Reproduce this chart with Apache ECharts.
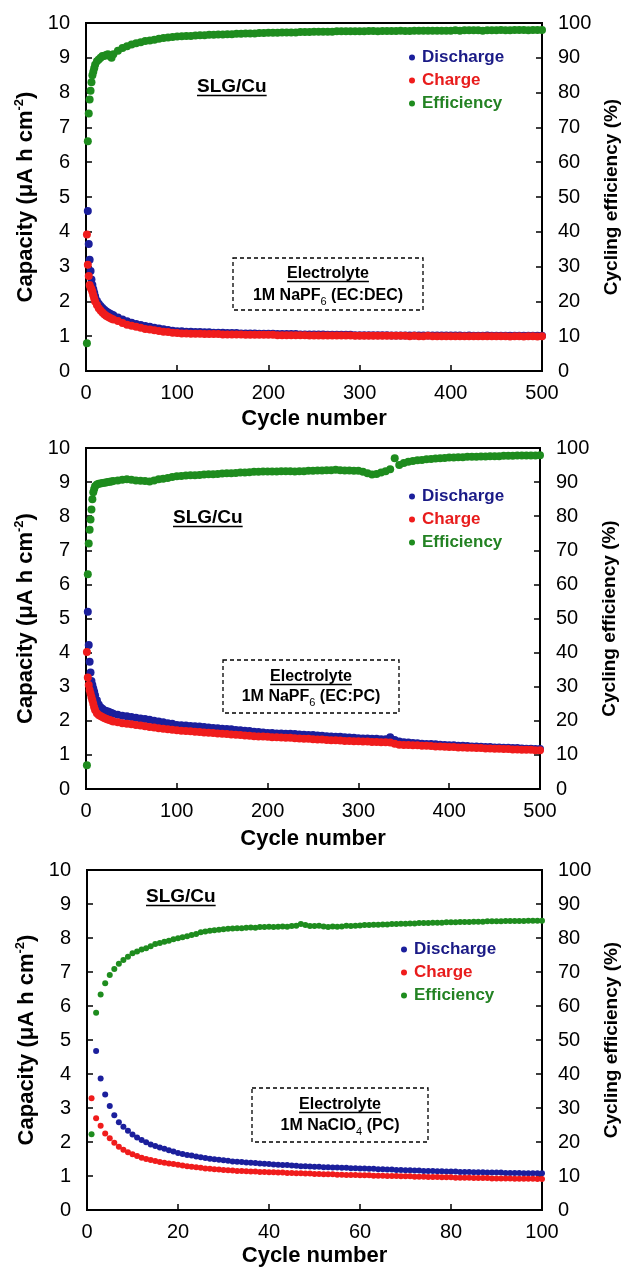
<!DOCTYPE html>
<html><head><meta charset="utf-8">
<script src="https://cdn.jsdelivr.net/npm/echarts@6/dist/echarts.min.js"></script>
<style>html,body{margin:0;padding:0;background:#fff}#c{width:622px;height:1272px}</style>
</head><body><div id="c"></div><script>
// ---------- DATA ----------
const P12_CYCLES = [1,2,3,4,5,6,7,8,9,10,
 12,14,16,18,20,22,24,26,28,30,
 35,40,45,50,55,60,65,70,75,80,85,90,95,100,
 105,110,115,120,125,130,135,140,145,150,155,160,165,170,175,180,185,190,195,200,
 205,210,215,220,225,230,235,240,245,250,255,260,265,270,275,280,285,290,295,300,
 305,310,315,320,325,330,335,340,345,350,355,360,365,370,375,380,385,390,395,400,
 405,410,415,420,425,430,435,440,445,450,455,460,465,470,475,480,485,490,495,500];

// Panel 1: 1M NaPF6 (EC:DEC)
const P1_DISCHARGE = [null,4.60,3.65,3.20,2.87,2.63,2.47,2.35,2.25,2.15,
 2.02,1.93,1.87,1.81,1.76,1.72,1.68,1.65,1.62,1.60,
 1.54,1.48,1.43,1.39,1.35,1.32,1.29,1.27,1.24,1.22,1.20,1.18,1.16,1.14,
 1.14,1.13,1.13,1.12,1.12,1.11,1.11,1.10,1.10,1.10,1.09,1.09,1.09,1.08,1.08,1.08,1.08,1.07,1.07,1.07,
 1.07,1.06,1.06,1.06,1.06,1.06,1.05,1.05,1.05,1.05,1.05,1.05,1.04,1.04,1.04,1.04,1.04,1.04,1.03,1.03,
 1.03,1.03,1.03,1.03,1.03,1.03,1.02,1.02,1.02,1.02,1.02,1.02,1.02,1.02,1.02,1.02,1.02,1.02,1.02,1.02,
 1.02,1.02,1.01,1.02,1.01,1.01,1.01,1.02,1.01,1.01,1.01,1.01,1.01,1.01,1.01,1.01,1.01,1.01,1.01,1.01];
const P1_CHARGE = [3.92,3.05,2.73,2.47,2.40,2.35,2.28,2.18,2.08,2.00,
 1.90,1.80,1.74,1.68,1.63,1.59,1.56,1.53,1.50,1.48,
 1.44,1.38,1.33,1.30,1.27,1.24,1.21,1.19,1.17,1.15,1.13,1.12,1.10,1.09,
 1.08,1.08,1.07,1.07,1.07,1.06,1.06,1.06,1.06,1.05,1.05,1.05,1.05,1.05,1.04,1.04,1.04,1.04,1.04,1.04,
 1.04,1.03,1.03,1.03,1.03,1.03,1.03,1.03,1.02,1.02,1.02,1.02,1.02,1.02,1.02,1.02,1.02,1.02,1.01,1.01,
 1.01,1.01,1.01,1.01,1.01,1.01,1.01,1.01,1.01,1.01,1.00,1.01,1.00,1.00,1.01,1.00,1.00,1.00,1.00,1.00,
 1.00,1.00,1.00,1.00,1.00,1.00,1.00,1.00,1.00,1.00,1.00,1.00,0.99,1.00,1.00,0.99,1.00,1.00,0.99,1.00];
const P1_EFFICIENCY = [8,66,74,78,80.5,83,85,86,87,88,
 89,89.5,90,90.5,90.5,90.8,91,90.5,90,91,
 92,92.8,93.3,93.8,94.2,94.5,94.8,95,95.2,95.5,95.7,95.8,96,96.1,
 96.2,96.3,96.3,96.4,96.5,96.5,96.6,96.6,96.7,96.7,96.8,96.8,96.9,96.9,97,97,97,97.1,97.1,97.2,
 97.2,97.2,97.3,97.3,97.3,97.3,97.4,97.4,97.4,97.5,97.5,97.5,97.5,97.5,97.6,97.6,97.6,97.6,97.6,97.6,
 97.6,97.7,97.7,97.6,97.7,97.7,97.7,97.7,97.8,97.7,97.7,97.8,97.8,97.8,97.8,97.8,97.8,97.8,97.8,97.8,
 97.9,97.8,97.9,97.9,97.9,97.9,97.8,97.9,97.9,97.9,98,97.9,97.9,98,98,98,97.9,98,98,98];

// Panel 2: 1M NaPF6 (EC:PC)
const P2_DISCHARGE = [null,5.20,4.22,3.73,3.42,3.17,3.05,2.95,2.85,2.75,
 2.60,2.48,2.40,2.35,2.31,2.29,2.27,2.25,2.23,2.21,
 2.18,2.15,2.13,2.11,2.09,2.07,2.05,2.03,2.00,1.98,1.96,1.93,1.91,1.88,
 1.87,1.86,1.85,1.84,1.83,1.82,1.80,1.79,1.78,1.77,1.76,1.75,1.73,1.72,1.71,1.70,1.68,1.67,1.66,1.64,
 1.64,1.63,1.63,1.62,1.62,1.61,1.60,1.59,1.58,1.58,1.57,1.56,1.55,1.54,1.53,1.53,1.52,1.51,1.50,1.49,
 1.48,1.48,1.47,1.47,1.46,1.46,1.52,1.44,1.39,1.37,1.36,1.35,1.34,1.33,1.32,1.32,1.31,1.30,1.29,1.28,
 1.28,1.27,1.27,1.26,1.25,1.25,1.24,1.23,1.23,1.22,1.22,1.21,1.21,1.20,1.20,1.19,1.18,1.18,1.17,1.17];
const P2_CHARGE = [4.02,3.27,3.05,2.90,2.80,2.70,2.60,2.50,2.40,2.32,
 2.22,2.17,2.14,2.11,2.08,2.06,2.04,2.02,2.00,1.98,
 1.96,1.93,1.91,1.90,1.88,1.86,1.84,1.82,1.80,1.78,1.77,1.75,1.74,1.72,
 1.71,1.70,1.69,1.68,1.67,1.66,1.65,1.64,1.63,1.62,1.61,1.60,1.59,1.58,1.57,1.56,1.55,1.54,1.54,1.53,
 1.52,1.52,1.51,1.50,1.50,1.49,1.48,1.47,1.47,1.46,1.45,1.45,1.44,1.43,1.43,1.42,1.41,1.41,1.40,1.40,
 1.39,1.39,1.38,1.38,1.37,1.37,1.36,1.33,1.30,1.29,1.29,1.28,1.28,1.27,1.27,1.26,1.25,1.25,1.24,1.23,
 1.23,1.22,1.22,1.21,1.21,1.20,1.20,1.19,1.19,1.18,1.18,1.17,1.17,1.16,1.16,1.15,1.15,1.15,1.14,1.14];
const P2_EFFICIENCY = [7,63,72,76,79,82,85,87,88,88.8,
 89.3,89.5,89.6,89.7,89.8,89.9,90,90.1,90.2,90.3,
 90.5,90.7,90.8,90.7,90.5,90.4,90.3,90.2,90.5,90.8,91,91.2,91.5,91.7,
 91.8,91.9,92,92,92.1,92.2,92.3,92.3,92.4,92.5,92.6,92.6,92.7,92.8,92.8,92.9,93,93,93.1,93.1,
 93.1,93.1,93.2,93.2,93.2,93.1,93.2,93.2,93.3,93.3,93.4,93.4,93.5,93.5,93.6,93.5,93.4,93.4,93.3,93.3,
 93,92.6,92.2,92.4,92.8,93.2,93.8,97,95,95.6,96,96.2,96.4,96.5,96.7,96.8,96.9,97,97.1,97.2,
 97.2,97.3,97.3,97.4,97.4,97.4,97.5,97.5,97.6,97.6,97.6,97.7,97.7,97.7,97.8,97.8,97.8,97.8,97.8,97.9];

// Panel 3: 1M NaClO4 (PC)
const P3_CYCLES = [1,2,3,4,5,6,7,8,9,10,11,12,13,14,15,16,17,18,19,20,
 21,22,23,24,25,26,27,28,29,30,31,32,33,34,35,36,37,38,39,40,
 41,42,43,44,45,46,47,48,49,50,51,52,53,54,55,56,57,58,59,60,
 61,62,63,64,65,66,67,68,69,70,71,72,73,74,75,76,77,78,79,80,
 81,82,83,84,85,86,87,88,89,90,91,92,93,94,95,96,97,98,99,100];
const P3_DISCHARGE = [null,4.68,3.87,3.40,3.06,2.79,2.58,2.45,2.33,2.22,
 2.13,2.06,1.99,1.93,1.88,1.84,1.80,1.76,1.72,1.68,
 1.65,1.62,1.60,1.57,1.55,1.53,1.51,1.49,1.48,1.46,
 1.45,1.43,1.42,1.41,1.40,1.39,1.38,1.37,1.36,1.35,
 1.34,1.33,1.32,1.32,1.31,1.30,1.29,1.29,1.28,1.27,
 1.27,1.26,1.26,1.25,1.25,1.24,1.24,1.23,1.23,1.22,
 1.22,1.21,1.21,1.20,1.20,1.19,1.19,1.18,1.18,1.17,
 1.17,1.16,1.16,1.15,1.15,1.15,1.14,1.14,1.13,1.13,
 1.13,1.12,1.12,1.12,1.11,1.11,1.11,1.10,1.10,1.10,
 1.10,1.09,1.09,1.09,1.09,1.08,1.08,1.08,1.08,1.08];
const P3_CHARGE = [3.29,2.70,2.48,2.25,2.11,1.98,1.86,1.77,1.70,1.64,
 1.59,1.54,1.50,1.47,1.44,1.41,1.39,1.37,1.35,1.33,
 1.31,1.29,1.27,1.26,1.24,1.22,1.21,1.20,1.19,1.18,
 1.17,1.16,1.15,1.15,1.14,1.13,1.13,1.12,1.12,1.11,
 1.11,1.10,1.10,1.09,1.09,1.08,1.08,1.07,1.07,1.06,
 1.06,1.05,1.05,1.05,1.04,1.04,1.03,1.03,1.03,1.02,
 1.02,1.02,1.01,1.01,1.01,1.00,1.00,1.00,0.99,0.99,
 0.99,0.98,0.98,0.98,0.97,0.97,0.97,0.96,0.96,0.96,
 0.95,0.95,0.95,0.95,0.94,0.94,0.94,0.94,0.93,0.93,
 0.93,0.93,0.93,0.92,0.92,0.92,0.92,0.92,0.91,0.91];
const P3_EFFICIENCY = [22.3,58,63.4,66.7,69.1,70.9,72.4,73.5,74.5,75.5,
 76.0,76.6,77.0,77.6,78.2,78.5,78.9,79.2,79.6,79.9,
 80.2,80.5,80.9,81.2,81.7,81.9,82.1,82.3,82.4,82.6,
 82.7,82.8,82.9,82.9,83.0,83.1,83.0,83.2,83.2,83.3,
 83.2,83.3,83.4,83.3,83.5,83.6,84.1,83.8,83.5,83.5,
 83.6,83.4,83.2,83.4,83.3,83.4,83.6,83.5,83.6,83.7,
 83.8,83.8,83.9,83.9,84.0,84.0,84.1,84.1,84.2,84.2,
 84.3,84.3,84.4,84.4,84.4,84.5,84.5,84.5,84.6,84.6,
 84.6,84.7,84.7,84.7,84.8,84.8,84.8,84.9,84.9,84.9,
 84.9,85.0,85.0,85.0,85.0,85.0,85.1,85.1,85.1,85.1];

const SERIES_NAMES = ['Discharge','Charge','Efficiency'];
const PANEL_LABEL = 'SLG/Cu';
const BOX_TITLE = 'Electrolyte';
const BOX_TEXT = [
  {main:'1M NaPF', sub:'6', rest:' (EC:DEC)'},
  {main:'1M NaPF', sub:'6', rest:' (EC:PC)'},
  {main:'1M NaClO', sub:'4', rest:' (PC)'}
];
const X_TITLE = 'Cycle number';
const Y_TITLE = 'Capacity (μA h cm';
const Y2_TITLE = 'Cycling efficiency (%)';

// ---------- STYLE / LAYOUT ----------
const FONT = '"Liberation Sans", Arial, sans-serif';
const BLUE = '#1b1f9c', RED = '#f01c1c', GREEN = '#1e8c1e';
const BLUE_T = '#1a1a86', RED_T = '#e81c1c', GREEN_T = '#238223';

const panels = [
  {cycles:P12_CYCLES, d:P1_DISCHARGE, c:P1_CHARGE, e:P1_EFFICIENCY, xmax:500, xint:100,
   grid:{left:86, top:23, width:456, height:348}, sym:8, nameGap:37,
   legend:{left:409, top:49}, label:{x:197, y:87}, box:{x:233, y:258, w:190, h:52, l1:274, l2:296}},
  {cycles:P12_CYCLES, d:P2_DISCHARGE, c:P2_CHARGE, e:P2_EFFICIENCY, xmax:500, xint:100,
   grid:{left:86, top:448, width:454, height:341}, sym:8, nameGap:39,
   legend:{left:409, top:488}, label:{x:173, y:518}, box:{x:223, y:660, w:176, h:53, l1:677, l2:697}},
  {cycles:P3_CYCLES, d:P3_DISCHARGE, c:P3_CHARGE, e:P3_EFFICIENCY, xmax:100, xint:20,
   grid:{left:87, top:870, width:455, height:340}, sym:6, nameGap:35,
   legend:{left:401, top:941}, label:{x:146, y:897}, box:{x:252, y:1088, w:176, h:54, l1:1105, l2:1126}}
];

const ctx = document.createElement('canvas').getContext('2d');
function textW(t, size, bold){ ctx.font = (bold?'bold ':'') + size + 'px ' + FONT; return ctx.measureText(t).width; }
function pairs(xs, ys){ const out=[]; for(let i=0;i<xs.length;i++){ if(ys[i]!=null) out.push([xs[i], ys[i]]); } return out; }

const grids=[], xAxes=[], yAxes=[], series=[], legends=[], graphics=[];
const axisCommon = {
  axisLine:{show:true, onZero:false, lineStyle:{color:'#000', width:2}},
  axisTick:{show:true, inside:true, length:6, lineStyle:{color:'#000', width:1.5}},
  splitLine:{show:false},
  axisLabel:{color:'#000', fontSize:20, fontFamily:FONT}
};
panels.forEach((p, i) => {
  grids.push(Object.assign({show:true, borderColor:'#000', borderWidth:2, backgroundColor:'transparent', containLabel:false, outerBoundsMode:'none'}, p.grid));
  xAxes.push(Object.assign({}, axisCommon, {
    type:'value', gridIndex:i, min:0, max:p.xmax, interval:p.xint, position:'bottom',
    axisLabel:Object.assign({}, axisCommon.axisLabel, {margin:12}),
    name:X_TITLE, nameLocation:'middle', nameGap:p.nameGap,
    nameTextStyle:{color:'#000', fontSize:22, fontWeight:'bold', fontFamily:FONT}
  }));
  yAxes.push(Object.assign({}, axisCommon, {
    type:'value', gridIndex:i, min:0, max:10, interval:1, position:'left',
    axisLabel:Object.assign({}, axisCommon.axisLabel, {margin:16}),
    name:'{t|'+Y_TITLE+'}{s|-2}{t|)}', nameLocation:'middle', nameRotate:90, nameGap:46,
    nameTextStyle:{rich:{
      t:{fontSize:22, fontWeight:'bold', fontFamily:FONT, color:'#000', lineHeight:26},
      s:{fontSize:13, fontWeight:'bold', fontFamily:FONT, color:'#000', lineHeight:13, verticalAlign:'top'}}}
  }));
  yAxes.push(Object.assign({}, axisCommon, {
    type:'value', gridIndex:i, min:0, max:100, interval:10, position:'right',
    axisLabel:Object.assign({}, axisCommon.axisLabel, {margin:16}),
    name:Y2_TITLE, nameLocation:'middle', nameRotate:90, nameGap:60,
    nameTextStyle:{color:'#000', fontSize:19, fontWeight:'bold', fontFamily:FONT}
  }));
  series.push({name:SERIES_NAMES[0], type:'scatter', xAxisIndex:i, yAxisIndex:2*i, symbol:'circle', symbolSize:p.sym,
    itemStyle:{color:BLUE, opacity:1}, data:pairs(p.cycles, p.d), z:2});
  series.push({name:SERIES_NAMES[1], type:'scatter', xAxisIndex:i, yAxisIndex:2*i, symbol:'circle', symbolSize:p.sym,
    itemStyle:{color:RED, opacity:1}, data:pairs(p.cycles, p.c), z:3});
  series.push({name:SERIES_NAMES[2], type:'scatter', xAxisIndex:i, yAxisIndex:2*i+1, symbol:'circle', symbolSize:p.sym,
    itemStyle:{color:GREEN, opacity:1}, data:pairs(p.cycles, p.e), z:4});
  legends.push({
    orient:'vertical', left:p.legend.left, top:p.legend.top, itemWidth:6, itemHeight:6, itemGap:6,
    icon:'circle', selectedMode:false, padding:0,
    textStyle:{fontSize:17, fontWeight:'bold', fontFamily:FONT, padding:[0,0,0,2]},
    data:[{name:SERIES_NAMES[0], textStyle:{color:BLUE_T}},
          {name:SERIES_NAMES[1], textStyle:{color:RED_T}},
          {name:SERIES_NAMES[2], textStyle:{color:GREEN_T}}]
  });
  // SLG/Cu label (underlined)
  const lw = textW(PANEL_LABEL, 19, true);
  graphics.push({type:'text', x:p.label.x, y:p.label.y, z:10,
    style:{text:PANEL_LABEL, font:'bold 19px '+FONT, fill:'#000', align:'left', verticalAlign:'middle'}});
  graphics.push({type:'line', z:10, shape:{x1:p.label.x, y1:p.label.y+8.5, x2:p.label.x+lw, y2:p.label.y+8.5},
    style:{stroke:'#000', lineWidth:1.7}});
  // dashed electrolyte box
  const b = p.box, cx = b.x + b.w/2;
  graphics.push({type:'rect', z:10, shape:{x:b.x, y:b.y, width:b.w, height:b.h},
    style:{fill:'#fff', stroke:'#000', lineWidth:1.3, lineDash:[4,3]}});
  const ew = textW(BOX_TITLE, 16, true);
  graphics.push({type:'text', z:11, x:cx, y:b.l1,
    style:{text:BOX_TITLE, font:'bold 16px '+FONT, fill:'#000', align:'center', verticalAlign:'middle'}});
  graphics.push({type:'line', z:11, shape:{x1:cx-ew/2, y1:b.l1+7.5, x2:cx+ew/2, y2:b.l1+7.5},
    style:{stroke:'#000', lineWidth:1.5}});
  const bt = BOX_TEXT[i];
  graphics.push({type:'text', z:11, x:cx, y:b.l2,
    style:{text:'{a|'+bt.main+'}{s|'+bt.sub+'}{a|'+bt.rest+'}', align:'center', verticalAlign:'middle',
      rich:{a:{font:'bold 16px '+FONT, fill:'#000', lineHeight:22},
            s:{font:'11px '+FONT, fill:'#000', lineHeight:10, verticalAlign:'bottom'}}}});
});

const chart = echarts.init(document.getElementById('c'), null, {renderer:'canvas'});
chart.setOption({
  animation:false, backgroundColor:'#fff',
  grid:grids, xAxis:xAxes, yAxis:yAxes, legend:legends, series:series, graphic:graphics
});
</script></body></html>
